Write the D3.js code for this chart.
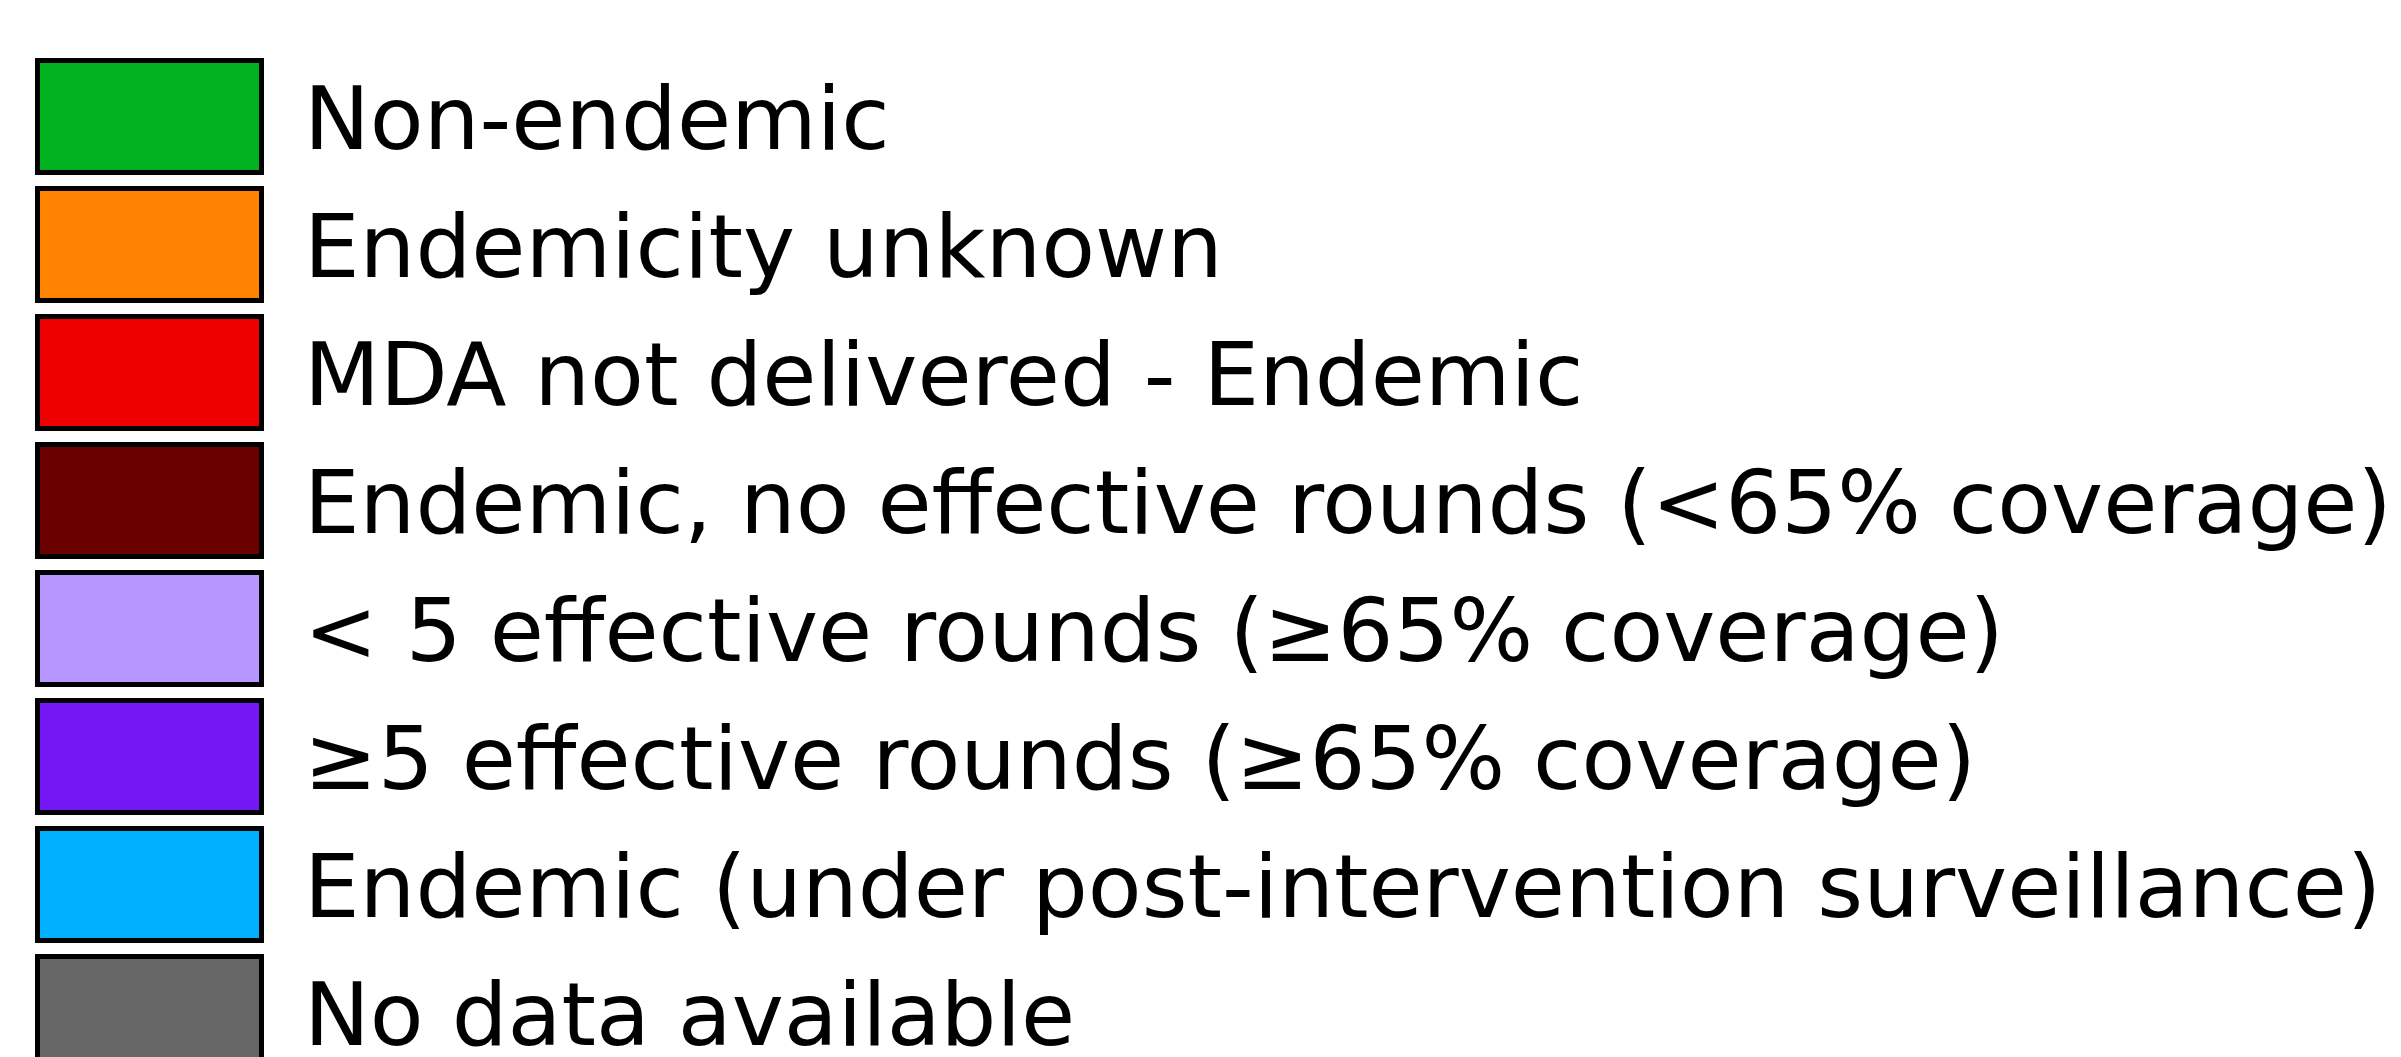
<!DOCTYPE html>
<html>
<head>
<meta charset="utf-8">
<script src="https://cdn.jsdelivr.net/npm/d3@7"></script>
<style>
    html, body { margin: 0; padding: 0; background: #fff; overflow: hidden; }
    svg { display: block; }
</style>
</head>
<body>
<svg id="legend"></svg>
<script>
// Legend categories and their fill colours
const categories = [
    "Non-endemic",
    "Endemicity unknown",
    "MDA not delivered - Endemic",
    "Endemic, no effective rounds (<65% coverage)",
    "< 5 effective rounds (\u226565% coverage)",
    "\u22655 effective rounds (\u226565% coverage)",
    "Endemic (under post-intervention surveillance)",
    "No data available"
];
const colors = [
    "#00b31e", "#ff8300", "#ee0000", "#6b0000",
    "#b896ff", "#7517f5", "#00b0ff", "#666666"
];

const width = 2401;
const height = 1057;

const svg = d3.select("#legend")
    .attr("width", width)
    .attr("height", height);

// one row every 128px, first swatch starts at y = 60
const y = d3.scaleLinear()
    .domain([0, 1])
    .range([60.5, 188.5]);

const rows = svg.selectAll("g.row")
    .data(categories)
    .enter()
    .append("g")
    .attr("class", "row")
    .attr("transform", (d, i) => `translate(0,${y(i)})`);

rows.append("rect")
    .attr("x", 37.5)
    .attr("y", 0)
    .attr("width", 224)
    .attr("height", 112)
    .attr("fill", (d, i) => colors[i])
    .attr("stroke", "#000")
    .attr("stroke-width", 5);

rows.append("text")
    .attr("x", 304)
    .attr("y", 88.8)
    .attr("font-family", "DejaVu Sans")
    .attr("font-size", 88)
    .attr("fill", "#000")
    .text(d => d);
</script>
</body>
</html>
